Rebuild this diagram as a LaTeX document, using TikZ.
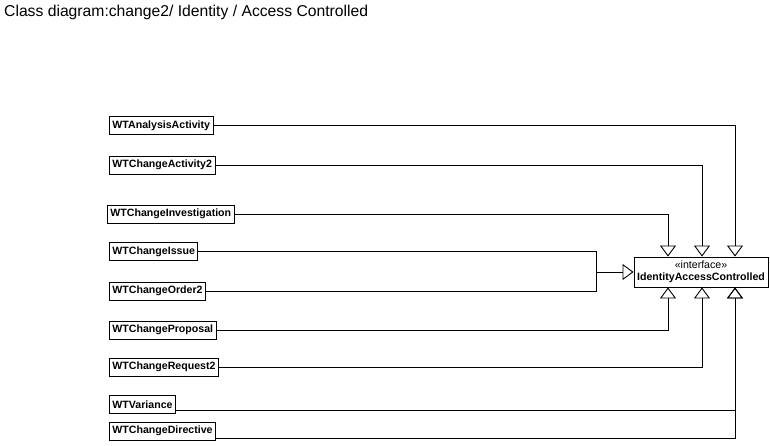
\documentclass[tikz,border=0pt]{standalone}
\usepackage{fontspec}
\setmainfont{Liberation Sans}
\usetikzlibrary{arrows.meta}
\begin{document}
\begin{tikzpicture}[x=1pt,y=-1pt,
    cls/.style={draw,line width=0.9pt,font=\fontsize{10.6}{12}\selectfont\bfseries,inner xsep=3pt,inner ysep=2pt,minimum height=18pt,anchor=west},
    iface/.style={draw,line width=0.9pt,align=center,minimum width=134pt,minimum height=30pt,inner sep=1pt,font=\fontsize{10.6}{11.5}\selectfont},
    real/.style={line width=0.9pt,-{Triangle[open,length=11pt,width=16pt]}}]
    \useasboundingbox (0,0) rectangle (770,445);

    \node[anchor=west,inner sep=0pt,font=\fontsize{15.7}{18}\selectfont] (title) at (4,12) {Class diagram:change2/ Identity / Access Controlled};

    \node[iface] (iac) at (701,272) {«interface»\\\textbf{IdentityAccessControlled}};

    \node[cls] (aa) at (109,125.5) {WTAnalysisActivity};
    \node[cls] (ca) at (109,165) {WTChangeActivity2};
    \node[cls] (cinv) at (107,214) {WTChangeInvestigation};
    \node[cls] (ciss) at (109,251.5) {WTChangeIssue};
    \node[cls] (co) at (109,291) {WTChangeOrder2};
    \node[cls] (cp) at (109,330) {WTChangeProposal};
    \node[cls] (cr) at (109,367) {WTChangeRequest2};
    \node[cls] (var) at (109,404.5) {WTVariance};
    \node[cls] (cd) at (109,431) {WTChangeDirective};

    % realizations from above
    \draw[real] (aa.east) -| ([xshift=34pt]iac.north);
    \draw[real] (ca.east) -| ([xshift=1pt]iac.north);
    \draw[real] (cinv.east) -| ([xshift=-33pt]iac.north);

    % merged realization from the left
    \coordinate (merge) at ([xshift=-37pt]iac.west);
    \draw[line width=0.9pt] (ciss.east) -| (merge);
    \draw[line width=0.9pt] (co.east) -| (merge);
    \draw[real] (merge) -- (iac.west);

    % realizations from below
    \draw[real] (cp.east) -| ([xshift=-33pt]iac.south);
    \draw[real] (cr.east) -| ([xshift=1pt]iac.south);
    \draw[real] ([yshift=-5.5pt]var.east) -| ([xshift=34pt]iac.south);
    \draw[real] ([yshift=-7pt]cd.east) -| ([xshift=34pt]iac.south);
\end{tikzpicture}
\end{document}
